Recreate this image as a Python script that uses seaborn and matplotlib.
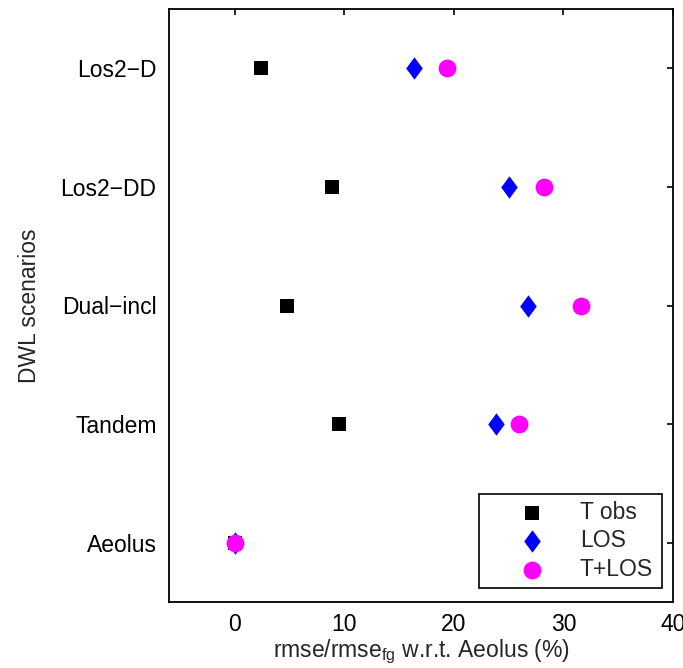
import matplotlib
matplotlib.use("Agg")
import matplotlib.pyplot as plt
import seaborn as sns
import pandas as pd

scenarios = ["Aeolus", "Tandem", "Dual\u2212incl", "Los2\u2212DD", "Los2\u2212D"]
t_obs = [0.0, 9.5, 4.75, 8.9, 2.4]
los = [0.0, 23.8, 26.8, 25.0, 16.4]
t_los = [0.0, 25.9, 31.6, 28.2, 19.4]
series_names = ["T obs", "LOS", "T+LOS"]
x_ticks = [0, 10, 20, 30, 40]

sns.set_theme(style="white")
plt.rcParams["font.family"] = ["Liberation Sans", "DejaVu Sans"]
plt.rcParams["mathtext.fontset"] = "custom"
plt.rcParams["mathtext.rm"] = "Liberation Sans"
plt.rcParams["mathtext.it"] = "Liberation Sans"

FS = 16.5
fig = plt.figure(figsize=(6.83, 6.68), dpi=100)
ax = fig.add_axes([169 / 683, 1 - 602 / 668, (673 - 169) / 683, (602 - 9) / 668])

diamond = [(0, 1), (0.74, 0), (0, -1), (-0.74, 0), (0, 1)]
styles = [
    (t_obs, "black", "s", 115),
    (los, "blue", diamond, 260),
    (t_los, "magenta", "o", 165),
]
for (vals, color, marker, size), name in zip(styles, series_names):
    df = pd.DataFrame({"x": vals, "y": scenarios})
    sns.scatterplot(data=df, x="x", y="y", ax=ax, color=color, marker=marker,
                    s=size, linewidth=0, label=name, zorder=3)

ax.set_xlim(-6, 40)
ax.set_ylim(-0.5, 4.5)
ax.set_xticks(x_ticks)
ax.set_xticklabels([str(t) for t in x_ticks])
ax.tick_params(axis="both", direction="in", length=4.5, width=1.2, top=True, right=True,
               labelsize=FS, colors="black")
ax.tick_params(axis="x", pad=8)
ax.tick_params(axis="y", pad=9)
for sp in ax.spines.values():
    sp.set_visible(True)
    sp.set_color("black")
    sp.set_linewidth(1.3)

ax.set_xlabel("rmse/rmse$_{\\mathrm{fg}}$ w.r.t. Aeolus (%)", fontsize=FS, labelpad=1)
ax.set_ylabel("DWL scenarios", fontsize=FS, labelpad=14)

x0 = (479 - 169) / 504
x1 = (662 - 169) / 504
y0 = (602 - 588) / 593
y1 = (602 - 496) / 593
leg = ax.legend(loc="lower left", bbox_to_anchor=(x0, y0, x1 - x0, y1 - y0),
                mode="expand", borderaxespad=0, fontsize=FS, frameon=True,
                fancybox=False, edgecolor="black", framealpha=1, borderpad=0.3,
                labelspacing=0.25, handletextpad=0.1, handlelength=4.0)
leg.get_frame().set_linewidth(1.2)

fig.savefig("out.png", dpi=100)
